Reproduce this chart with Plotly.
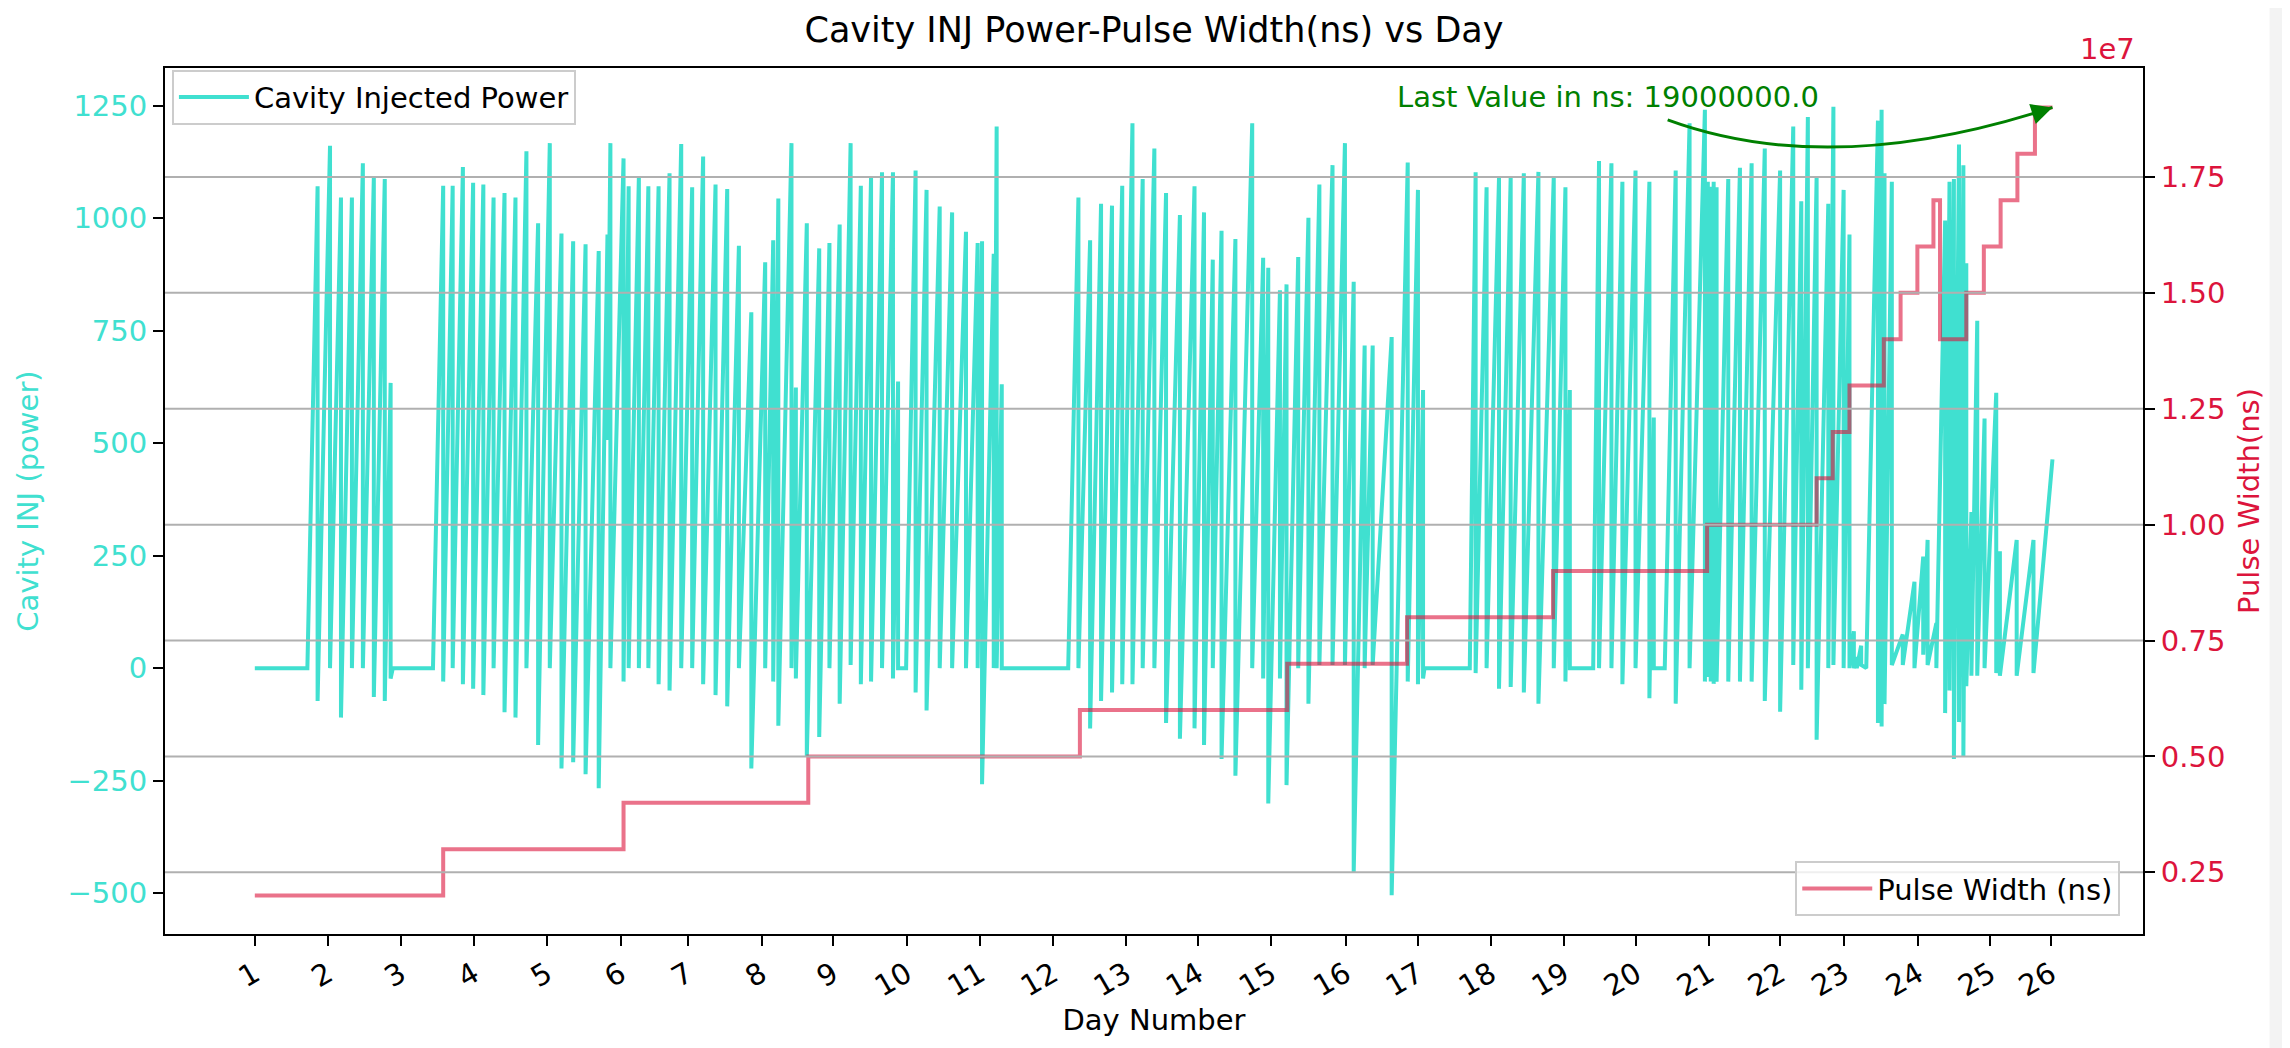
import plotly.graph_objects as go

# Day ticks sit at the first sample index of each day
day_labels = [str(d) for d in range(1, 27)]
day_tick_idx = [0, 100, 200, 300, 400, 501, 593, 694, 792, 893, 993, 1093, 1193,
                1292, 1392, 1494, 1593, 1693, 1793, 1892, 1992, 2089, 2176, 2278,
                2377, 2460]

power_idx = [0, 72, 86, 103, 118, 133, 148, 163, 178, 186, 189, 244,
             258, 271, 285, 299, 313, 327, 342, 357, 372, 388, 404, 420, 436, 453, 471,
             483, 487, 505, 512, 526, 539, 553, 568, 584, 599, 614, 631, 647, 663, 680,
             699, 710, 717, 735, 741, 756, 773, 787, 801, 816, 830, 844, 859, 874, 881,
             892, 905, 920, 938, 955, 974, 990, 996, 1012, 1016, 1023, 1025, 1114,
             1128, 1144, 1159, 1174, 1188, 1202, 1216, 1232, 1248, 1267, 1287, 1300,
             1312, 1324, 1343, 1366, 1381, 1388, 1404, 1413, 1429, 1443, 1458, 1476,
             1493, 1505, 1520, 1531, 1557, 1579, 1593, 1600, 1602, 1664,
             1672, 1687, 1704, 1720, 1738, 1758, 1779, 1795, 1801, 1803, 1833,
             1841, 1858, 1873, 1891, 1910, 1916, 1918, 1931,
             1946, 1965, 1986, 1990, 1994, 1998, 2002, 2018, 2034, 2050, 2068,
             2089, 2107, 2118, 2127, 2139, 2155, 2162, 2176, 2184,
             2190, 2194, 2200, 2207, 2223, 2228, 2232, 2242,
             2257, 2273, 2285, 2291, 2303, 2315, 2321, 2327, 2334, 2340, 2344,
             2351, 2359, 2369, 2385, 2390, 2413, 2436, 2462]
power_peak = [0, 0, 1071, 1161, 1046, 1046, 1122, 1091, 1087, 634, 0, 0,
              1072, 1072, 1114, 1079, 1075, 1046, 1056, 1046, 1149, 989, 1167, 966, 949, 942, 927,
              964, 1167, 1133, 1071, 1093, 1071, 1071, 1100, 1165, 1069, 1137, 1075, 1065, 939, 791,
              902, 951, 1044, 1167, 624, 989, 933, 945, 986, 1167, 1072, 1093, 1102, 1102, 637,
              0, 1106, 1063, 1026, 1013, 970, 945, 949, 921, 1204, 631, 0, 0,
              1046, 951, 1032, 1028, 1072, 1211, 1087, 1155, 1056, 1007, 1071, 1013,
              908, 972, 954, 1211, 912, 890, 840, 853, 914, 1001, 1075, 1118,
              1167, 859, 717, 717, 736, 1124, 1063, 618, 0, 0,
              1102, 1069, 1090, 1091, 1100, 1103, 1093, 1069, 618, 0, 0,
              1127, 1122, 1081, 1106, 1081, 557, 0, 0,
              1106, 1211, 1241, 1081, 1070, 1081, 1069, 1087, 1112, 1122, 1155,
              1106, 1204, 1038, 1225, 1093, 1032, 1248, 1063, 964,
              82, 25, 50, 0, 1217, 1241, 1100, 1081,
              75, 192, 248, 285, 100, 995, 1081, 1087, 1164, 1118, 900,
              347, 772, 555, 612, 260, 285, 285, 464]
power_trough = [0, 0, -73, 0, -110, 0, 0, -64, -73, -23, 0, 0,
                -30, 0, -36, -46, -60, 0, -98, -110, 0, -171, 0, -223, -209, -236, -267,
                507, 0, -30, 0, 0, 0, -36, -50, 0, 0, -36, -60, -85, 0, -223,
                0, -30, -128, 0, -23, -196, -153, 0, -79, 7, -36, -30, 0, -23, 0,
                0, -54, -94, 0, 0, 0, 0, -258, 0, 0, 0, 0, 0,
                0, -134, -73, -54, -36, -36, 0, 0, -122, -157, -134, -171,
                0, -202, -239, 0, -23, -301, -23, -260, 0, -79, 7, 7,
                7, -455, 0, 7, -505, -30, -36, -23, 0, 0,
                -11, 0, -46, -42, -54, -79, 0, -30, 0, 0, 0,
                0, 0, -36, 0, -67, 0, 0, 0,
                -79, 0, -30, -20, -30, -35, -30, -30, -30, -30, -73,
                -97, 7, -48, 0, -159, 0, 7, 0, 0,
                0, 0, 7, 0, -122, -130, -80, 7,
                7, 0, 30, 7, 0, -100, -50, -202, -120, -196, -40,
                -17, -17, 0, -11, -17, -17, -11, 464]

# Pulse width (ns), value holds from each change point
pw_idx = [0, 258, 505, 758, 1130, 1414, 1578, 1778, 1989, 2139, 2161, 2184, 2231,
          2254, 2277, 2299, 2308, 2344, 2368, 2391, 2414, 2438, 2462]
pw_ns = [2000000, 3000000, 4000000, 5000000, 6000000, 7000000, 8000000, 9000000,
         10000000, 11000000, 12000000, 13000000, 14000000, 15000000, 16000000,
         17000000, 14000000, 15000000, 16000000, 17000000, 18000000, 19000000, 19000000]

power_ticks = [-500, -250, 0, 250, 500, 750, 1000, 1250]
pw_ticks = [2500000, 5000000, 7500000, 10000000, 12500000, 15000000, 17500000]
pw_tick_text = ['0.25', '0.50', '0.75', '1.00', '1.25', '1.50', '1.75']

FONT = 'DejaVu Sans'
CYAN = 'turquoise'
RED = 'crimson'

# each spike: rise to the peak, then a vertical drop to the trough
power_x, power_y = [], []
for i, p, t in zip(power_idx, power_peak, power_trough):
    power_x += [i, i]
    power_y += [p, t]

fig = go.Figure()
fig.add_trace(go.Scatter(
    x=power_x, y=power_y, mode='lines', name='Cavity Injected Power',
    line=dict(color=CYAN, width=4), legend='legend', showlegend=True
))
fig.add_trace(go.Scatter(
    x=pw_idx, y=pw_ns, mode='lines', line_shape='hv', name='Pulse Width (ns)',
    line=dict(color='rgba(220,20,60,0.6)', width=4), yaxis='y2', legend='legend2',
    showlegend=True
))

# grid of the twin axis, drawn over the power trace
for v in pw_ticks:
    fig.add_shape(type='line', xref='paper', x0=0, x1=1, yref='y2', y0=v, y1=v,
                  line=dict(color='#b0b0b0', width=2), layer='above')

# curved arrow to the last pulse-width value
last_x, last_y = pw_idx[-1], pw_ns[-1]
tail_x, tail_y = last_x - 527, last_y - 270000
ctrl_x, ctrl_y = last_x - 303, last_y - 1565000
fig.add_shape(type='path', xref='x', yref='y2',
              path=f'M {tail_x},{tail_y} Q {ctrl_x},{ctrl_y} {last_x},{last_y}',
              line=dict(color='green', width=3))
fig.add_annotation(x=last_x, y=last_y, xref='x', yref='y2',
                   ax=last_x - 30, ay=last_y - 155000, axref='x', ayref='y2',
                   text='', showarrow=True, arrowhead=2, arrowsize=1.4,
                   arrowwidth=3, arrowcolor='green')
fig.add_annotation(x=0.7295, y=0.9665, xref='paper', yref='paper',
                   xanchor='center', yanchor='middle',
                   text=f'Last Value in ns: {float(last_y)}', showarrow=False,
                   font=dict(family=FONT, size=29, color='green'))
fig.add_annotation(x=0.982, y=1.022, xref='paper', yref='paper', text='1e7',
                   xanchor='center', yanchor='middle',
                   showarrow=False, font=dict(family=FONT, size=29, color=RED))

# light panel at the right edge of the screenshot
fig.add_shape(type='rect', xref='paper', yref='paper', x0=1.064, x1=1.1, y0=-0.2, y1=1.2,
              fillcolor='#f3f3f3', line=dict(width=0), layer='below')

axis_common = dict(
    ticks='outside', ticklen=10, tickwidth=2, tickcolor='black',
    showline=True, linecolor='black', linewidth=2, showgrid=False,
    zeroline=False, automargin=False
)

fig.update_layout(
    width=2290, height=1048,
    margin=dict(l=157, r=155, t=60, b=122),
    paper_bgcolor='white', plot_bgcolor='white',
    showlegend=True,
    font=dict(family=FONT, size=29, color='black'),
    title=dict(text='Cavity INJ Power-Pulse Width(ns) vs Day', x=0.5, xref='paper',
               y=0.979, yanchor='middle', font=dict(size=35, color='black')),
    xaxis=dict(range=[-123, 2586], tickvals=day_tick_idx, ticktext=day_labels,
               tickangle=-30, tickfont=dict(size=29, color='black'),
               title=dict(text='Day Number', font=dict(size=29), standoff=4),
               mirror=True, **axis_common),
    yaxis=dict(range=[-591, 1334], tickvals=power_ticks,
               tickfont=dict(size=29, color=CYAN),
               title=dict(text='Cavity INJ (power)', font=dict(size=29, color=CYAN), standoff=20),
               **axis_common),
    yaxis2=dict(range=[1170000, 19850000], overlaying='y', side='right',
                tickvals=pw_ticks, ticktext=pw_tick_text,
                tickfont=dict(size=29, color=RED),
                title=dict(text='Pulse Width(ns)', font=dict(size=29, color=RED), standoff=14),
                **axis_common),
    legend=dict(x=0.0035, y=0.998, xanchor='left', yanchor='top',
                bgcolor='rgba(255,255,255,0.8)', bordercolor='#cccccc', borderwidth=2,
                font=dict(size=29), itemwidth=70),
    legend2=dict(x=0.9885, y=0.0206, xanchor='right', yanchor='bottom',
                 bgcolor='rgba(255,255,255,0.8)', bordercolor='#cccccc', borderwidth=2,
                 font=dict(size=29), itemwidth=70),
)

fig.write_html('out.html')
